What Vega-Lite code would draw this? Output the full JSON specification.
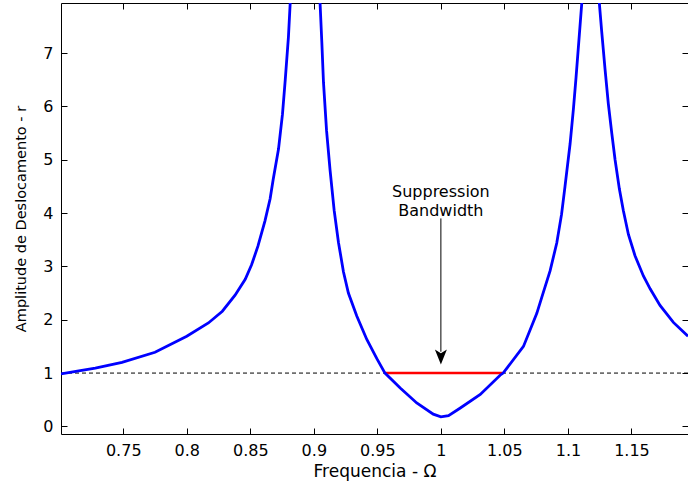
{
  "$schema": "https://vega.github.io/schema/vega-lite/v6.json",
  "width": 627,
  "height": 431,
  "autosize": {"type": "none"},
  "padding": {"left": 61, "top": 3, "right": 0, "bottom": 52},
  "background": "white",
  "config": {
    "view": {"stroke": "#000000", "strokeWidth": 1},
    "font": "DejaVu Sans",
    "axis": {
      "grid": false,
      "domain": false,
      "ticks": true,
      "tickColor": "#000000",
      "tickWidth": 1,
      "tickSize": 6,
      "offset": -6,
      "labelColor": "#000000",
      "titleColor": "#000000",
      "labelFont": "DejaVu Sans",
      "titleFont": "DejaVu Sans",
      "labelFontSize": 16,
      "titleFontWeight": "normal"
    }
  },
  "datasets": {
    "curve": [
      {"x": 0.701, "y": 0.985}, {"x": 0.715, "y": 1.04}, {"x": 0.728, "y": 1.095}, {"x": 0.749, "y": 1.2},
      {"x": 0.775, "y": 1.39}, {"x": 0.8, "y": 1.69}, {"x": 0.817, "y": 1.94}, {"x": 0.828, "y": 2.16},
      {"x": 0.838, "y": 2.46}, {"x": 0.846, "y": 2.76}, {"x": 0.851, "y": 3.03}, {"x": 0.856, "y": 3.38},
      {"x": 0.8615, "y": 3.85}, {"x": 0.8656, "y": 4.27}, {"x": 0.868, "y": 4.63}, {"x": 0.8722, "y": 5.2},
      {"x": 0.8753, "y": 5.85}, {"x": 0.8775, "y": 6.5}, {"x": 0.88, "y": 7.3}, {"x": 0.8814, "y": 7.94},
      {"x": 0.893, "y": 40},
      {"x": 0.9049, "y": 7.94}, {"x": 0.9063, "y": 7.2}, {"x": 0.9076, "y": 6.45}, {"x": 0.91, "y": 5.55},
      {"x": 0.9128, "y": 4.8}, {"x": 0.916, "y": 4.05}, {"x": 0.9194, "y": 3.45}, {"x": 0.9233, "y": 2.9},
      {"x": 0.9272, "y": 2.5}, {"x": 0.9338, "y": 2.07}, {"x": 0.9417, "y": 1.63}, {"x": 0.9496, "y": 1.27},
      {"x": 0.956, "y": 1.0}, {"x": 0.968, "y": 0.72}, {"x": 0.981, "y": 0.44}, {"x": 0.994, "y": 0.23},
      {"x": 1.0, "y": 0.18}, {"x": 1.006, "y": 0.2}, {"x": 1.015, "y": 0.34}, {"x": 1.031, "y": 0.6},
      {"x": 1.0466, "y": 0.96}, {"x": 1.049, "y": 1.0}, {"x": 1.065, "y": 1.5}, {"x": 1.0755, "y": 2.12},
      {"x": 1.0794, "y": 2.42}, {"x": 1.086, "y": 2.92}, {"x": 1.0912, "y": 3.44}, {"x": 1.095, "y": 3.98},
      {"x": 1.0977, "y": 4.5}, {"x": 1.1017, "y": 5.3}, {"x": 1.1043, "y": 5.95}, {"x": 1.1064, "y": 6.55},
      {"x": 1.109, "y": 7.35}, {"x": 1.1109, "y": 7.94},
      {"x": 1.118, "y": 40},
      {"x": 1.1247, "y": 7.94}, {"x": 1.1266, "y": 7.4}, {"x": 1.1292, "y": 6.7}, {"x": 1.1318, "y": 6.05},
      {"x": 1.1345, "y": 5.5}, {"x": 1.1371, "y": 5.0}, {"x": 1.1405, "y": 4.45}, {"x": 1.1436, "y": 4.05},
      {"x": 1.1476, "y": 3.6}, {"x": 1.1528, "y": 3.2}, {"x": 1.1594, "y": 2.82}, {"x": 1.1647, "y": 2.58},
      {"x": 1.1725, "y": 2.27}, {"x": 1.183, "y": 1.95}, {"x": 1.1945, "y": 1.69}
    ],
    "band": [{"x": 0.956, "y": 1}, {"x": 1.0484, "y": 1}],
    "ref": [{"y": 1}],
    "arrow": [{"x": 1.0, "y1": 3.9, "y2": 1.4}],
    "head": [{"x": 1.0, "y": 1.3}],
    "label": [
      {"x": 1.0, "y": 4.31, "text": "Suppression"},
      {"x": 1.0, "y": 3.95, "text": "Bandwidth"}
    ]
  },
  "layer": [
    {
      "data": {"name": "ref"},
      "mark": {"type": "rule", "color": "#000000", "strokeWidth": 1, "strokeDash": [4, 3]},
      "encoding": {
        "y": {"field": "y", "type": "quantitative", "scale": {"domain": [-0.1425, 7.94], "nice": false, "zero": false},
              "axis": {"orient": "left", "values": [0, 1, 2, 3, 4, 5, 6, 7], "format": "d", "labelPadding": 8, "titlePadding": 14, "title": "Amplitude de Deslocamento - r", "titleFontSize": 14.5}}
      }
    },
    {
      "data": {"name": "band"},
      "mark": {"type": "line", "color": "#ff0000", "strokeWidth": 2.5},
      "encoding": {
        "x": {"field": "x", "type": "quantitative", "scale": {"domain": [0.701, 1.1945], "nice": false, "zero": false},
              "axis": {"orient": "top", "values": [0.75, 0.8, 0.85, 0.9, 0.95, 1, 1.05, 1.1, 1.15], "labels": false, "title": null}},
        "y": {"field": "y", "type": "quantitative", "scale": {"domain": [-0.1425, 7.94], "nice": false, "zero": false},
              "axis": {"orient": "right", "values": [0, 1, 2, 3, 4, 5, 6, 7], "labels": false, "title": null}}
      }
    },
    {
      "data": {"name": "curve"},
      "mark": {"type": "line", "color": "#0000ff", "strokeWidth": 2.8, "clip": true},
      "encoding": {
        "x": {"field": "x", "type": "quantitative", "sort": null, "scale": {"domain": [0.701, 1.1945], "nice": false, "zero": false},
              "axis": {"orient": "bottom", "values": [0.75, 0.8, 0.85, 0.9, 0.95, 1, 1.05, 1.1, 1.15], "format": ".2~f", "labelPadding": 8, "titlePadding": 5, "title": "Frequencia - Ω", "titleFontSize": 17}},
        "y": {"field": "y", "type": "quantitative", "scale": {"domain": [-0.1425, 7.94], "nice": false, "zero": false}, "axis": null}
      }
    },
    {
      "data": {"name": "arrow"},
      "mark": {"type": "rule", "color": "#000000", "strokeWidth": 1},
      "encoding": {
        "x": {"field": "x", "type": "quantitative", "scale": {"domain": [0.701, 1.1945], "nice": false, "zero": false}, "axis": null},
        "y": {"field": "y1", "type": "quantitative", "scale": {"domain": [-0.1425, 7.94], "nice": false, "zero": false}, "axis": null},
        "y2": {"field": "y2"}
      }
    },
    {
      "data": {"name": "head"},
      "mark": {"type": "point", "shape": "M0,1 L-0.8,-1 L0,-0.5 L0.8,-1 Z", "size": 225, "filled": true, "color": "#000000", "opacity": 1},
      "encoding": {
        "x": {"field": "x", "type": "quantitative", "scale": {"domain": [0.701, 1.1945], "nice": false, "zero": false}, "axis": null},
        "y": {"field": "y", "type": "quantitative", "scale": {"domain": [-0.1425, 7.94], "nice": false, "zero": false}, "axis": null}
      }
    },
    {
      "data": {"name": "label"},
      "mark": {"type": "text", "font": "DejaVu Sans", "fontSize": 16, "color": "#000000", "align": "center", "baseline": "alphabetic"},
      "encoding": {
        "x": {"field": "x", "type": "quantitative", "scale": {"domain": [0.701, 1.1945], "nice": false, "zero": false}, "axis": null},
        "y": {"field": "y", "type": "quantitative", "scale": {"domain": [-0.1425, 7.94], "nice": false, "zero": false}, "axis": null},
        "text": {"field": "text", "type": "nominal"}
      }
    }
  ],
  "resolve": {"axis": {"x": "independent", "y": "independent"}}
}
